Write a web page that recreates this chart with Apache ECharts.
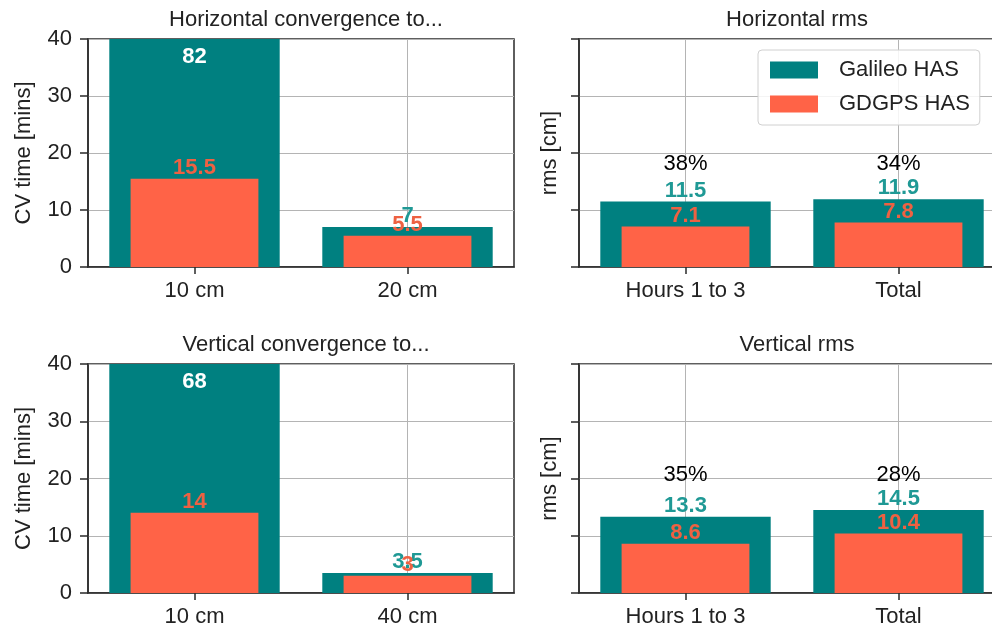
<!DOCTYPE html>
<html>
<head>
<meta charset="utf-8">
<script src="https://cdn.jsdelivr.net/npm/echarts@6/dist/echarts.min.js"></script>
<style>html,body{margin:0;padding:0;background:#fff}#c{width:992px;height:631px}</style>
</head>
<body>
<div id="c"></div>
<script>
// ---- data ----
const seriesNames = ['Galileo HAS', 'GDGPS HAS'];
const hConvCats = ['10 cm', '20 cm'];
const hConvGalileo = [82, 7];
const hConvGdgps = [15.5, 5.5];
const vConvCats = ['10 cm', '40 cm'];
const vConvGalileo = [68, 3.5];
const vConvGdgps = [14, 3];
const rmsCats = ['Hours 1 to 3', 'Total'];
const hRmsGalileo = [11.5, 11.9];
const hRmsGdgps = [7.1, 7.8];
const hRmsPct = ['38%', '34%'];
const vRmsGalileo = [13.3, 14.5];
const vRmsGdgps = [8.6, 10.4];
const vRmsPct = ['35%', '28%'];
const titles = ['Horizontal convergence to...', 'Horizontal rms', 'Vertical convergence to...', 'Vertical rms'];
const yTicks = [0, 10, 20, 30, 40];

// ---- style ----
const FONT = 'Liberation Sans';
const FS = 22;
const TEAL = '#008080', CORAL = '#ff6347';
const TEAL_TXT = '#1f9995', CORAL_TXT = '#ee6142';
const SPINE = '#2a2a2a', GRIDC = '#b4b4b4';
const yMin = yTicks[0], yMax = yTicks[yTicks.length - 1], yStep = yTicks[1] - yTicks[0];

const panels = [
  {cats: hConvCats, gal: hConvGalileo, gd: hConvGdgps, pct: null, grid: {left: 88, top: 39, width: 426, height: 228}, yName: 'CV time [mins]', labels: true, title: titles[0]},
  {cats: rmsCats, gal: hRmsGalileo, gd: hRmsGdgps, pct: hRmsPct, grid: {left: 579, top: 39, width: 426, height: 228}, yName: 'rms [cm]', labels: false, title: titles[1]},
  {cats: vConvCats, gal: vConvGalileo, gd: vConvGdgps, pct: null, grid: {left: 88, top: 364, width: 426, height: 229}, yName: 'CV time [mins]', labels: true, title: titles[2]},
  {cats: rmsCats, gal: vRmsGalileo, gd: vRmsGdgps, pct: vRmsPct, grid: {left: 579, top: 364, width: 426, height: 229}, yName: 'rms [cm]', labels: false, title: titles[3]}
];

const grid = [], xAxis = [], yAxis = [], series = [], title = [];
panels.forEach((p, gi) => {
  grid.push(Object.assign({show: true, borderColor: SPINE, borderWidth: 1.5, backgroundColor: 'transparent',
    containLabel: false, outerBoundsMode: 'none'}, p.grid));
  title.push({
    text: p.title, left: p.grid.left + p.grid.width / 2, top: p.grid.top - 35, textAlign: 'center',
    textStyle: {fontFamily: FONT, fontSize: FS, fontWeight: 'normal', color: '#222'}
  });
  const xa = xAxis.length;
  xAxis.push({
    type: 'category', gridIndex: gi, data: p.cats,
    axisLine: {show: true, lineStyle: {color: SPINE, width: 1.5}},
    axisTick: {show: true, alignWithLabel: true, length: 7, lineStyle: {color: SPINE, width: 1.5}},
    axisLabel: {fontFamily: FONT, fontSize: FS, color: '#222', margin: 13},
    splitLine: {show: true, alignWithLabel: true, lineStyle: {color: GRIDC, width: 1}}
  });
  const xb = xAxis.length;
  xAxis.push({
    type: 'category', gridIndex: gi, data: p.cats, show: false,
    axisLine: {show: false}, axisTick: {show: false}, axisLabel: {show: false}, splitLine: {show: false}
  });
  yAxis.push({
    type: 'value', gridIndex: gi, min: yMin, max: yMax, interval: yStep,
    name: p.yName, nameLocation: 'middle', nameGap: p.labels ? 53 : 18, nameRotate: 90,
    nameTextStyle: {fontFamily: FONT, fontSize: FS, color: '#222'},
    axisLine: {show: true, lineStyle: {color: SPINE, width: 1.5}},
    axisTick: {show: true, length: 8, lineStyle: {color: SPINE, width: 1.5}},
    axisLabel: {show: p.labels, fontFamily: FONT, fontSize: FS, color: '#222', margin: 16},
    splitLine: {show: true, lineStyle: {color: GRIDC, width: 1}}
  });
  const lblBase = {show: true, position: 'top', distance: 0, fontFamily: FONT, fontSize: FS, fontWeight: 'bold'};
  series.push({
    name: seriesNames[0], type: 'bar', xAxisIndex: xa, yAxisIndex: gi, barWidth: '80%',
    itemStyle: {color: TEAL}, clip: true,
    label: Object.assign({}, lblBase, {color: TEAL_TXT}),
    data: p.gal.map(v => v > yMax
      ? {value: v, label: {position: 'insideTop', distance: 7, color: '#ffffff'}}
      : v)
  });
  series.push({
    name: seriesNames[1], type: 'bar', xAxisIndex: xb, yAxisIndex: gi, barWidth: '60%',
    itemStyle: {color: CORAL}, clip: true, z: 3,
    label: Object.assign({}, lblBase, {color: CORAL_TXT}),
    data: p.gd.slice()
  });
  if (p.pct) {
    const pctY = Math.max.apply(null, p.gal) + 6.2;
    series.push({
      type: 'scatter', xAxisIndex: xa, yAxisIndex: gi, symbolSize: 0, z: 4, silent: true,
      itemStyle: {opacity: 1},
      label: {show: true, position: 'inside', fontFamily: FONT, fontSize: FS, color: '#000000', opacity: 1,
        formatter: prm => p.pct[prm.dataIndex]},
      data: p.pct.map((_, i) => [i, pctY])
    });
  }
});

const chart = echarts.init(document.getElementById('c'), null, {renderer: 'canvas'});
chart.setOption({
  animation: false,
  backgroundColor: '#ffffff',
  title: title,
  legend: {
    data: seriesNames.map(n => ({name: n, icon: 'rect'})), orient: 'vertical', left: 758, top: 50,
    itemWidth: 48, itemHeight: 17, itemGap: 12, padding: [9, 10, 10, 12],
    backgroundColor: 'rgba(255,255,255,0.85)', borderColor: '#d0d0d0', borderWidth: 1, borderRadius: 4,
    selectedMode: false,
    textStyle: {fontFamily: FONT, fontSize: FS, color: '#222', padding: [0, 0, 0, 16]}
  },
  grid: grid, xAxis: xAxis, yAxis: yAxis, series: series
});
</script>
</body>
</html>
